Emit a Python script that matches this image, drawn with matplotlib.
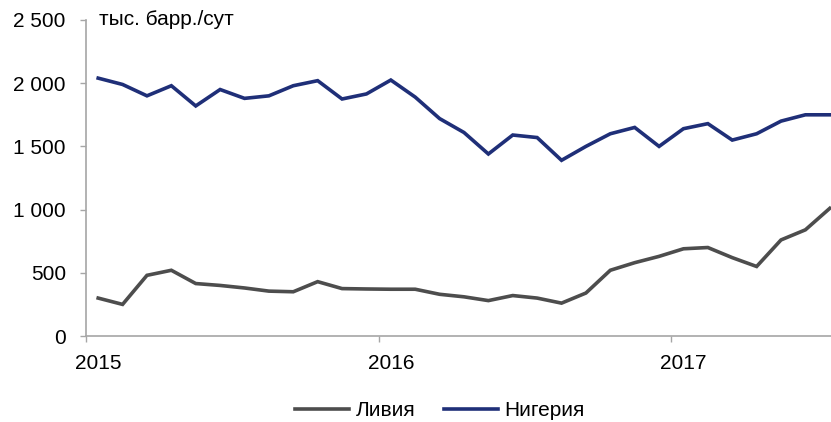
import numpy as np
import matplotlib
matplotlib.use("Agg")
from matplotlib import pyplot as plt

plt.rcParams['font.family'] = ['Liberation Sans', 'DejaVu Sans']

# monthly data, Jan 2015 - Jul 2017, thousand barrels per day
months = np.arange(31)
libya = [300, 250, 480, 520, 415, 400, 380, 355, 350, 430, 375, 372,
         370, 370, 330, 310, 280, 320, 300, 260, 340, 520, 580, 630,
         690, 700, 620, 550, 760, 840, 1010]
nigeria = [2040, 1990, 1900, 1980, 1820, 1950, 1880, 1900, 1980, 2020, 1875, 1915,
           2025, 1890, 1720, 1610, 1440, 1590, 1570, 1390, 1500, 1600, 1650, 1500,
           1640, 1680, 1550, 1600, 1700, 1750, 1750]
year_labels = ['2015', '2016', '2017']
y_ticks = [0, 500, 1000, 1500, 2000, 2500]

gray = '#4d4d4d'
navy = '#1f2f78'
axcol = '#a6a6a6'
fs = 15

fig = plt.figure(figsize=(8.31, 4.22), dpi=100)
ax = fig.add_axes([86/831, 1-336/422, (831-86)/831, (336-20)/422])

x = months + 0.5
ax.plot(x, libya, color=gray, lw=2.6, label='Ливия', solid_joinstyle='miter')
ax.plot(x, nigeria, color=navy, lw=2.6, label='Нигерия', solid_joinstyle='miter')

ax.set_xlim(0, 30.55)
ax.set_ylim(0, 2500)

ax.set_yticks(y_ticks)
ax.set_yticklabels([f'{v:,}'.replace(',', ' ') for v in y_ticks])

# year ticks on boundaries, labels centered on January points
ax.set_xticks([0, 12, 24])
ax.set_xticklabels([])
ax.set_xticks([0.5, 12.5, 24.5], minor=True)
ax.set_xticklabels(year_labels, minor=True)

ax.tick_params(axis='y', direction='out', length=4.5, width=1, color=axcol,
               labelsize=fs, pad=10)
ax.tick_params(axis='x', which='major', direction='out', length=4.5, width=1, color=axcol)
ax.tick_params(axis='x', which='minor', length=0, labelsize=fs, pad=13)

for s in ['top', 'right']:
    ax.spines[s].set_visible(False)
for s in ['left', 'bottom']:
    ax.spines[s].set_color(axcol)
    ax.spines[s].set_linewidth(1.2)

ax.text(0.55, 2500, 'тыс. барр./сут', fontsize=fs, va='center', ha='left')

fig.legend(loc='center', bbox_to_anchor=(440/831, 1-411/422), ncol=2, frameon=False,
           fontsize=fs, handlelength=2.6, handletextpad=0.3, columnspacing=1.4)

fig.savefig('out.png', dpi=100)
